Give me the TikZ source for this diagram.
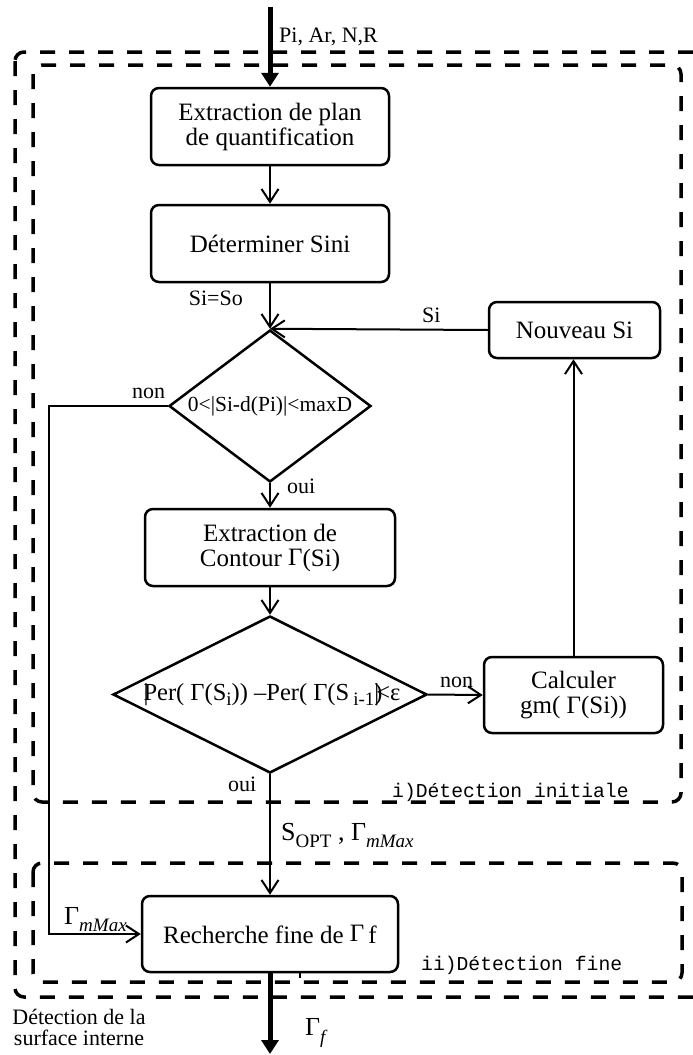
\documentclass[tikz,border=0pt]{standalone}
\usepackage{fontspec}
\setmainfont{Liberation Serif}
\setmonofont{Liberation Mono}
\usetikzlibrary{shapes.geometric,arrows.meta}
\newcommand{\boxfont}{\fontsize{25}{25}\selectfont}
\newcommand{\diafont}{\fontsize{21.5}{22}\selectfont}
\newcommand{\diafontb}{\fontsize{24.5}{25}\selectfont}
\newcommand{\lblfont}{\fontsize{22}{21}\selectfont}
\newcommand{\bigfont}{\fontsize{26}{26}\selectfont}
\newcommand{\monofont}{\fontsize{19.7}{20}\selectfont\ttfamily}
\newcommand{\subt}[2][-6pt]{\raisebox{#1}{\fontsize{19}{19}\selectfont #2}}
\begin{document}
\begin{tikzpicture}[x=1pt,y=-1pt,
  procbox/.style={draw, rounded corners=8pt, line width=2.5pt, align=center, font=\boxfont, inner sep=0pt},
  dia/.style={draw, diamond, line width=2.5pt, inner sep=0pt},
  txt/.style={font=\diafont, inner sep=0pt},
  arr/.style={line width=2pt, -{Straight Barb[length=13pt,width=17pt,line width=2pt]}},
  thickarr/.style={line width=5pt, -{Triangle[length=14pt,width=17pt]}},
  lbl/.style={font=\lblfont, inner sep=0pt},
  biglbl/.style={font=\bigfont, inner sep=0pt},
  monolbl/.style={font=\monofont, inner sep=0pt},
  frame/.style={dash pattern=on 15pt off 14pt, line width=3.5pt, rounded corners=9pt}
]
\useasboundingbox (0,0) rectangle (693,1055);

% dashed frames
\draw[frame] (15,52) rectangle (710,997);
\draw[frame] (33,65) rectangle (681,802);
\draw[frame] (33,863) rectangle (682,982);

% process boxes
\node[procbox, minimum width=238pt, minimum height=77pt] (b1) at (270,126.5) {Extraction de plan\\de quantification};
\node[procbox, minimum width=238pt, minimum height=77pt] (b2) at (270,243.5) {D\'eterminer Sini};
\node[dia, minimum width=202pt, minimum height=152pt] (d1) at (270,406) {};
\node[txt] (t1) at (d1.center) {0<|Si-d(Pi)|<maxD};
\node[procbox, minimum width=250pt, minimum height=77pt] (b3) at (270,547.5) {Extraction de\\Contour \raisebox{1pt}{Γ}(Si)};
\node[dia, minimum width=314pt, minimum height=157pt] (d2) at (270,694.5) {};
\node[txt, font=\diafontb] (t2) at ([xshift=2pt]d2.center) {\rlap{|}Per( Γ(S\subt[-5pt]{i})) –Per( Γ(S\,\subt[-5pt]{i-1}\rlap{)}|\kern-3pt<ε};
\node[procbox, minimum width=171pt, minimum height=56pt] (b4) at (574.5,330) {Nouveau Si};
\node[procbox, minimum width=179pt, minimum height=76pt] (b5) at (573.5,695) {Calculer\\gm( Γ(Si))};
\node[procbox, minimum width=256pt, minimum height=76pt] (b6) at (270,934) {Recherche fine de \raisebox{2pt}{Γ}\,f};

% coordinates
\coordinate (in) at (270,7);
\coordinate (out) at (270,1054);
\coordinate (cl) at (49,406);

% connectors
\draw[thickarr] (in) -- (b1.north);
\draw[arr] (b1.south) -- (b2.north);
\draw[arr] (b2.south) -- (d1.north);
\draw[arr] (b4.west) -- (d1.north);
\draw[arr] (d1.west) -- (cl) |- (b6.west);
\draw[arr] (d1.south) -- (b3.north);
\draw[arr] (b3.south) -- (d2.north);
\draw[arr] (d2.east) -- (b5.west);
\draw[arr] (b5.north) -- (b5.north |- b4.south);
\draw[arr] (d2.south) -- (b6.north);
\draw[thickarr] (b6.south) -- (out);
\draw[line width=1.5pt] (300,972) -- (300,978);

% labels
\node[lbl, anchor=base west] (lin) at (279,42) {Pi, Ar, N,R};
\node[lbl, anchor=base east] (lso) at (243,305) {Si=So};
\node[lbl, anchor=base west] (lsi) at (422,322) {Si};
\node[lbl, anchor=base west] (lnon1) at (132,398) {non};
\node[lbl, anchor=base west] (loui1) at (287,493) {oui};
\node[lbl, anchor=base west] (lnon2) at (440,687) {non};
\node[lbl, anchor=base west] (loui2) at (228,791) {oui};
\node[biglbl, anchor=base west] (lsopt) at (281,840) {S\subt[-7pt]{OPT} , Γ\subt[-7pt]{\itshape mMax}};
\node[biglbl, anchor=base west] (lgm) at (64,924) {Γ\subt[-7pt]{\itshape mMax}};
\node[biglbl, anchor=base west] (lgf) at (305,1035) {Γ\subt[-8pt]{\itshape f}};
\node[monolbl, anchor=base west] (li) at (392,797) {i)Détection initiale};
\node[monolbl, anchor=base west] (lii) at (421,970) {ii)Détection fine};
\node[lbl, align=center] (lsurf) at (79,1027) {Détection de la\\surface interne};
\end{tikzpicture}
\end{document}
